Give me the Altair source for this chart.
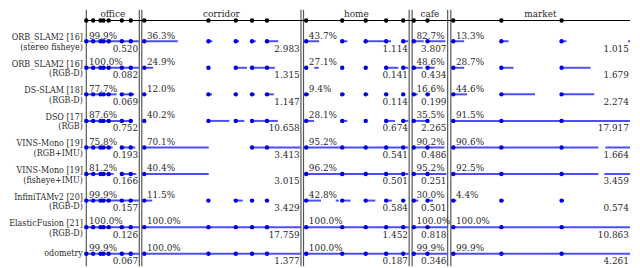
import altair as alt
import pandas as pd

# ---------------- data ----------------
scenes = ["office", "corridor", "home", "cafe", "market"]
# timeline extent of each scene panel (arbitrary time units)
scene_left = [0.3, 56.5, 220.3, 330.3, 369.5]
scene_right = [54.0, 217.7, 327.3, 366.3, 551.0]
# start of every sequence on the timeline
seq_starts = {
    "office": [0.3, 7.3, 14.7, 17.7, 23.0, 36.3, 45.3],
    "corridor": [59.0, 124.0, 151.7, 168.2, 183.3],
    "home": [223.0, 259.5, 283.3, 304.0, 321.3],
    "cafe": [332.0, 345.9],
    "market": [372.0, 420.7, 481.7],
}

methods = ["ORB_SLAM2 [16]", "ORB_SLAM2 [16]", "DS-SLAM [18]", "DSO [17]",
           "VINS-Mono [19]", "VINS-Mono [19]", "InfiniTAMv2 [20]",
           "ElasticFusion [21]", "odometry"]
sensors = ["(stereo fisheye)", "(RGB-D)", "(RGB-D)", "(RGB)", "(RGB+IMU)",
           "(fisheye+IMU)", "(RGB-D)", "(RGB-D)", ""]

pct = {
    "office":   [99.9, 100.0, 77.7, 87.6, 75.8, 81.2, 99.9, 100.0, 99.9],
    "corridor": [36.3, 24.9, 12.0, 40.2, 70.1, 40.4, 11.5, 100.0, 100.0],
    "home":     [43.7, 27.1, 9.4, 28.1, 95.2, 96.2, 42.8, 100.0, 100.0],
    "cafe":     [82.7, 48.6, 16.6, 35.5, 90.2, 95.2, 30.0, 100.0, 99.9],
    "market":   [13.3, 28.7, 44.6, 91.5, 90.6, 92.5, 4.4, 100.0, 99.9],
}
err = {
    "office":   [0.520, 0.082, 0.069, 0.752, 0.193, 0.166, 0.157, 0.126, 0.067],
    "corridor": [2.983, 1.315, 1.147, 10.658, 3.413, 3.015, 3.429, 17.759, 1.377],
    "home":     [1.114, 0.141, 0.114, 0.674, 0.541, 0.501, 0.584, 1.452, 0.187],
    "cafe":     [3.807, 0.434, 0.199, 2.265, 0.486, 0.251, 0.501, 0.818, 0.346],
    "market":   [1.015, 1.679, 2.274, 17.917, 1.664, 3.459, 0.574, 10.863, 4.261],
}

# tracked intervals (start, end) on the timeline, per method
tracked = [
    [(0.3, 53.5), (59, 93), (124, 128), (151.7, 155), (168.2, 172), (183.3, 194.7),
     (223, 236), (259.5, 264.7), (283.3, 309), (321.3, 326.5),
     (332, 342), (345.9, 364), (372, 383), (420.7, 428), (481.7, 486.7), (549, 551)],
    [(0.3, 53.5), (59, 68), (151.7, 163), (168.2, 191.3),
     (231.3, 235.7), (304, 316.3), (321.3, 326.5),
     (332, 341), (345.9, 353), (372, 383), (420.7, 433), (481.7, 511)],
    [(0.3, 31), (36.3, 49), (124, 127.7), (168.2, 171), (183.3, 190.3),
     (223, 226), (259.5, 262), (283.3, 286), (304, 306), (321.3, 323),
     (332, 336), (345.9, 348.5), (372, 386), (420.7, 454.7), (481.7, 514.7)],
    [(0.3, 47.5), (124, 145.3), (151.7, 160.3), (168.2, 194.3),
     (223, 231), (259.5, 264.7), (304, 313), (321.3, 326.5),
     (332, 344.7), (372, 551)],
    [(0.3, 27), (36.3, 50), (59, 124.3), (168.2, 217.5),
     (223, 326.5), (332, 363), (372, 519), (526, 551)],
    [(0.3, 28), (36.3, 51), (59, 124.3),
     (223, 326.5), (332, 365), (372, 519), (525, 551)],
    [(0.3, 53.5), (59, 67), (151.7, 158.7),
     (223, 238), (253, 256), (259.5, 268), (283.3, 293), (304, 309.7), (321.3, 323),
     (332, 336.5), (345.9, 351.5), (372, 375), (420.7, 423), (481.7, 484)],
    [(0.3, 54), (59, 217.7), (223, 327.3), (332, 366.3), (372, 551)],
    [(0.3, 54), (59, 217.7), (223, 327.3), (332, 366.3), (372, 551)],
]
# sequences where a method never initialised (no start marker)
missing = {4: {"corridor": [1, 2]}, 5: {"corridor": [1, 2, 3, 4]}}

HEADER = -0.7807  # row index of the sequence header line

# ---------------- tables ----------------
seq_rows, dot_rows = [], []
for s in scenes:
    for k, u in enumerate(seq_starts[s]):
        seq_rows.append({"scene": s, "u": u, "r": HEADER})
        for r in range(len(methods)):
            if k in missing.get(r, {}).get(s, []):
                continue
            dot_rows.append({"scene": s, "u": u, "r": r})
seq_df = pd.DataFrame(seq_rows)
dot_df = pd.DataFrame(dot_rows)

seg_df = pd.DataFrame([{"r": r, "u": a, "u2": b}
                       for r, segs in enumerate(tracked) for a, b in segs])

border_df = pd.DataFrame({"u": scene_left + scene_right[:-1]})

panel_df = pd.DataFrame({
    "scene": scenes,
    "mid": [(a + b) / 2 for a, b in zip(scene_left, scene_right)],
    "r": [HEADER] * len(scenes),
})

txt_rows = []
for i, s in enumerate(scenes):
    for r in range(len(methods)):
        txt_rows.append({"scene": s, "r": r, "pct": pct[s][r], "err": err[s][r],
                         "first": seq_starts[s][0], "right": scene_right[i]})
txt_df = pd.DataFrame(txt_rows)

lab_df = pd.DataFrame({"r": list(range(len(methods))), "method": methods,
                       "sensor": sensors})
lab_df["label"] = [m + ("\n" + s if s else "") for m, s in zip(methods, sensors)]
lab_df["two"] = [bool(s) for s in sensors]
lab_df["lx"] = -3.2

HEADER_LINE = pd.DataFrame({"u": [scene_left[0]], "u2": [scene_right[-1]], "r": [HEADER]})

# ---------------- scales ----------------
xs = alt.Scale(domain=[-79, 553], nice=False, zero=False)
ys = alt.Scale(domain=[-1.1896, 8.476], reverse=True, nice=False, zero=False)
X = lambda f: alt.X(f, type="quantitative", scale=xs, axis=None)
Y = lambda f: alt.Y(f, type="quantitative", scale=ys, axis=None)

FONT = "DejaVu Serif"
LFONT = "DejaVu Serif Condensed, DejaVu Serif"
TXT = "#2a2a2a"
DOT = "#0000dd"
LINE = "#4d4dff"

borders = alt.Chart(border_df).mark_rule(color="#555555", strokeWidth=1.2).encode(
    x=X("u"), y=alt.value(0), y2=alt.value(260))

hline = alt.Chart(HEADER_LINE).mark_rule(color="black", strokeWidth=1.2).encode(
    x=X("u"), x2="u2", y=Y("r"))

hdots = alt.Chart(seq_df).mark_circle(color="black", size=20, opacity=1).encode(
    x=X("u"), y=Y("r"))

htext = alt.Chart(panel_df).mark_text(font=FONT, fontSize=9, color=TXT, dy=-4,
                                      baseline="alphabetic", align="center").encode(
    x=X("mid"), y=Y("r"), text="scene:N")

segs = alt.Chart(seg_df).mark_rule(color=LINE, strokeWidth=2).encode(
    x=X("u"), x2="u2", y=Y("r"))

dots = alt.Chart(dot_df).mark_circle(color=DOT, size=20, opacity=1).encode(
    x=X("u"), y=Y("r"))

ptext = alt.Chart(txt_df).transform_calculate(
    t="format(datum.pct, '.1f') + '%'").mark_text(
    font=FONT, fontSize=9, color=TXT, align="left", baseline="alphabetic",
    dx=2.7, dy=-2.7).encode(x=X("first"), y=Y("r"), text="t:N")

etext = alt.Chart(txt_df).transform_calculate(
    t="format(datum.err, '.3f')").mark_text(
    font=FONT, fontSize=9, color=TXT, align="right", baseline="alphabetic",
    dx=-1.2, dy=10.5).encode(x=X("right"), y=Y("r"), text="t:N")

lab2 = alt.Chart(lab_df).transform_filter("datum.two").mark_text(
    font=LFONT, fontSize=9.0, color=TXT, align="right", baseline="alphabetic",
    lineBreak="\n", lineHeight=9.6, dy=-1).encode(x=X("lx"), y=Y("r"), text="label:N")

lab1 = alt.Chart(lab_df).transform_filter("!datum.two").mark_text(
    font=LFONT, fontSize=9.0, color=TXT, align="right", baseline="alphabetic",
    dy=2.5).encode(x=X("lx"), y=Y("r"), text="label:N")

chart = alt.layer(borders, hline, segs, hdots, dots, htext, ptext, etext, lab2, lab1).properties(
    width=632, height=260, autosize="none", padding=0
).configure_view(stroke=None)

chart.save("out.html", embed_options={"renderer": "svg", "actions": False})
